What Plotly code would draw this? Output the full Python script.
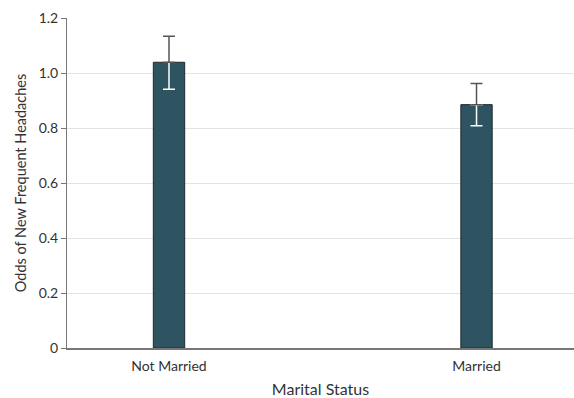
import plotly.graph_objects as go

categories = ["Not Married", "Married"]
odds = [1.039, 0.885]
ci_upper = [1.134, 0.962]
ci_lower = [0.941, 0.808]
y_ticks = [0, 0.2, 0.4, 0.6, 0.8, 1.0, 1.2]
y_tick_text = ["0", "0.2", "0.4", "0.6", "0.8", "1.0", "1.2"]

xpos = list(range(len(categories)))
err_up = [u - v for u, v in zip(ci_upper, odds)]
err_dn = [v - l for v, l in zip(odds, ci_lower)]

FONT = "Lato"
fig = go.Figure()
fig.add_trace(go.Bar(
    x=xpos, y=odds, width=0.102,
    marker=dict(color="#2e5461", line=dict(color="#1e2a30", width=1)),
    hoverinfo="skip",
))
# lower part of error bar (inside bar) in white
fig.add_trace(go.Scatter(
    x=xpos, y=odds, mode="markers", marker=dict(size=1, opacity=0),
    error_y=dict(type="data", symmetric=False, array=[0] * len(odds), arrayminus=err_dn,
                 color="white", thickness=1.5, width=6),
    hoverinfo="skip",
))
# upper part of error bar (above bar) in dark gray
fig.add_trace(go.Scatter(
    x=xpos, y=odds, mode="markers", marker=dict(size=1, opacity=0),
    error_y=dict(type="data", symmetric=False, array=err_up, arrayminus=[0] * len(odds),
                 color="#555555", thickness=1.5, width=6),
    hoverinfo="skip",
))

fig.update_layout(
    width=574, height=398,
    margin=dict(l=67, r=0, t=18, b=50),
    plot_bgcolor="white", paper_bgcolor="white",
    showlegend=False,
    font=dict(family=FONT, size=13, color="#333333"),
    xaxis=dict(
        range=[-0.3317, 1.317], tickvals=xpos, ticktext=categories,
        tickfont=dict(size=14), ticklabelstandoff=4,
        showgrid=False, zeroline=False, showline=True, linecolor="#777777", linewidth=1.5,
        ticks="", title=dict(text="Marital Status", standoff=14, font=dict(size=16)),
    ),
    yaxis=dict(
        range=[0, 1.2], tickvals=y_ticks, ticktext=y_tick_text,
        tickfont=dict(size=14),
        showgrid=True, gridcolor="#e3e3e3", gridwidth=1,
        zeroline=False, showline=True, linecolor="#777777", linewidth=1,
        ticks="outside", ticklen=5, tickcolor="#777777",
        title=dict(text="Odds of New Frequent Headaches", standoff=8, font=dict(size=14.5)),
    ),
)
fig.write_html("out.html")
